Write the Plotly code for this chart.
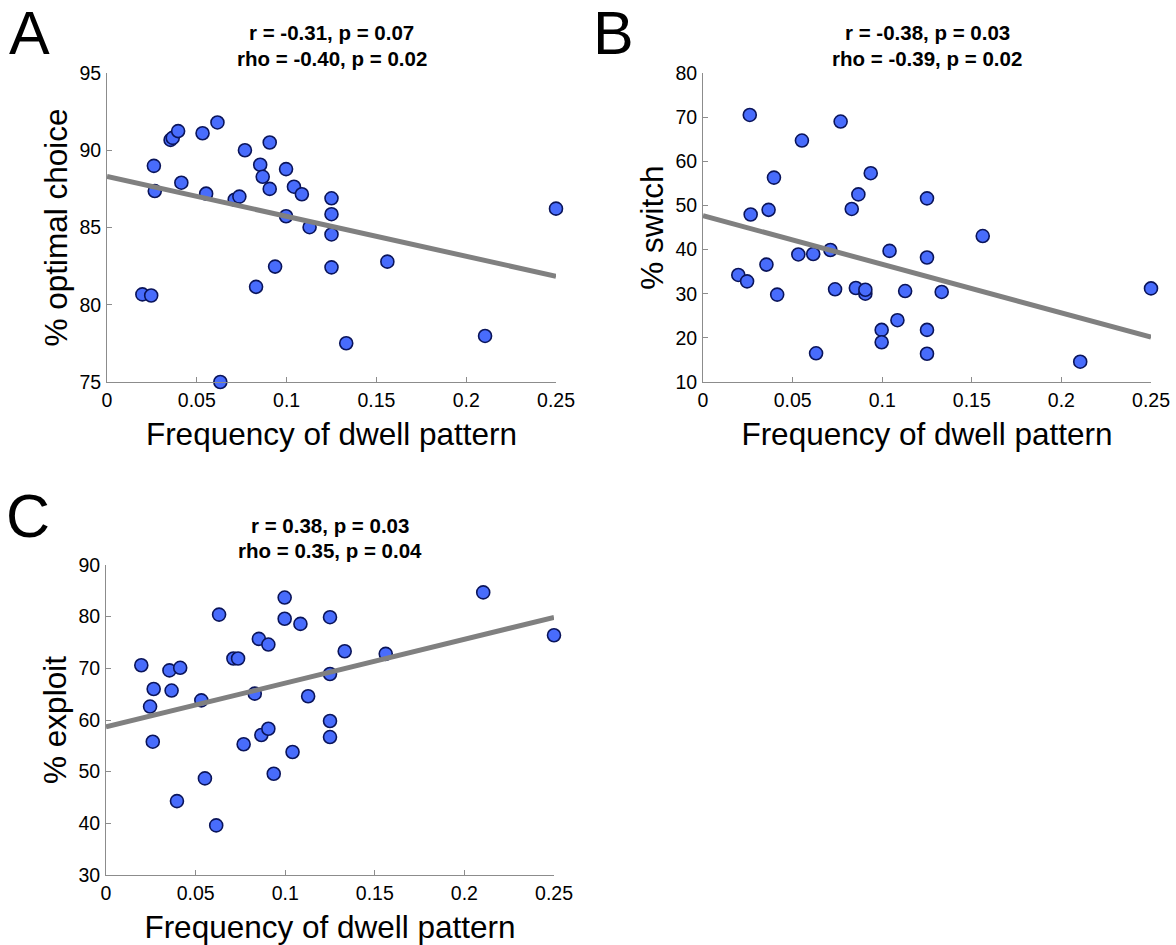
import numpy as np
import plotly.graph_objects as go

# Shared x: frequency of dwell pattern (one per participant)
freq = [0.0197, 0.0246, 0.0261, 0.0266, 0.0354, 0.0366, 0.0396, 0.0414, 0.0532, 0.0552,
        0.0615, 0.0631, 0.0711, 0.0737, 0.0768, 0.0830, 0.0853, 0.0867, 0.0906, 0.0906,
        0.0936, 0.0997, 0.0997, 0.1041, 0.1085, 0.1128, 0.125, 0.125, 0.125, 0.125,
        0.1332, 0.1561, 0.2105, 0.25]

optimal_choice = [80.67, 80.6, 88.99, 87.36, 90.67, 90.8, 91.24, 87.9, 91.1, 87.19,
                  91.8, 75.0, 86.8, 87.0, 90.0, 81.16, 89.06, 88.28, 90.5, 87.5,
                  82.47, 88.78, 85.73, 87.64, 87.15, 85.02, 86.89, 85.86, 84.55, 82.42,
                  77.51, 82.79, 77.98, 86.22]

switch = [34.25, 32.8, 70.5, 47.95, 36.6, 49.0, 56.3, 29.8, 38.9, 64.7,
          39.0, 16.5, 39.9, 31.0, 69.0, 49.2, 31.3, 52.5, 30.0, 30.9,
          57.3, 21.8, 19.0, 39.7, 24.0, 30.6, 51.6, 38.2, 21.8, 16.4,
          30.4, 43.06, 14.6, 31.2]

exploit = [70.6, 62.6, 55.8, 66.0, 69.6, 65.7, 44.3, 70.1, 63.8, 48.7,
           39.6, 80.4, 71.9, 71.9, 55.3, 65.1, 75.7, 57.1, 74.6, 58.3,
           49.6, 83.7, 79.6, 53.8, 78.6, 64.6, 79.9, 68.9, 59.8, 56.7,
           73.3, 72.8, 84.7, 76.4]

panel_letters = ["A", "B", "C"]
titles_line1 = ["r = -0.31, p = 0.07", "r = -0.38, p = 0.03", "r = 0.38, p = 0.03"]
titles_line2 = ["rho = -0.40, p = 0.02", "rho = -0.39, p = 0.02", "rho = 0.35, p = 0.04"]
y_titles = ["% optimal choice", "% switch", "% exploit"]
x_title = "Frequency of dwell pattern"
x_ticks = [0, 0.05, 0.1, 0.15, 0.2, 0.25]
x_ticktext = ["0", "0.05", "0.1", "0.15", "0.2", "0.25"]
y_ranges = [[75, 95], [10, 80], [30, 90]]
y_dticks = [5, 10, 10]

W, H = 1176, 945
FONT = "Liberation Sans"
MARKER = "rgb(72,108,252)"
EDGE = "rgb(10,20,90)"
LINE = "rgb(128,128,128)"
AXC = "rgb(140,140,140)"
LABEL_SIZE = 31.5

# pixel boxes (left, right, top, bottom)
boxes = [(107, 556, 73, 382), (703, 1151, 73, 382), (106, 554, 565, 875)]
letter_pos = [(7, -3), (591, -3), (4, 480)]

fig = go.Figure()
series = [optimal_choice, switch, exploit]
x = np.array(freq)
for i, ys in enumerate(series):
    ax = "" if i == 0 else str(i + 1)
    xa, ya = "x" + ax, "y" + ax
    yv = np.array(ys)
    fig.add_trace(go.Scatter(x=freq, y=ys, mode="markers", xaxis=xa, yaxis=ya,
                             cliponaxis=False, showlegend=False,
                             marker=dict(size=13, color=MARKER, line=dict(color=EDGE, width=1.6))))
    m, b = np.polyfit(x, yv, 1)
    lx = [0, 0.25]
    fig.add_trace(go.Scatter(x=lx, y=[b + m * v for v in lx], mode="lines", xaxis=xa, yaxis=ya,
                             cliponaxis=False, showlegend=False,
                             line=dict(color=LINE, width=5)))
    l, r, t, bt = boxes[i]
    axis_common = dict(showgrid=False, zeroline=False, showline=True, linecolor=AXC, linewidth=1,
                       ticks="inside", ticklen=5, tickcolor=AXC, tickwidth=1,
                       tickfont=dict(family=FONT, size=19.5, color="black"), mirror=False)
    fig.layout["xaxis" + ax] = dict(domain=[l / W, r / W], range=[0, 0.25], anchor=ya,
                                    tickvals=x_ticks, ticktext=x_ticktext, ticklabelstandoff=1,
                                    title=dict(text=x_title, font=dict(family=FONT, size=LABEL_SIZE, color="black"), standoff=12),
                                    **axis_common)
    fig.layout["yaxis" + ax] = dict(domain=[1 - bt / H, 1 - t / H], range=y_ranges[i], anchor=xa,
                                    dtick=y_dticks[i], tick0=0, ticklabelstandoff=1,
                                    title=dict(text=y_titles[i], font=dict(family=FONT, size=LABEL_SIZE, color="black"), standoff=2),
                                    **axis_common)
    cx = (l + r) / 2 / W
    for txt, dy in ((titles_line1[i], 40), (titles_line2[i], 15)):
        fig.add_annotation(text="<b>" + txt + "</b>", xref="paper", yref="paper",
                           x=cx, y=1 - (t - dy) / H, xanchor="center", yanchor="middle",
                           showarrow=False, align="center", font=dict(family=FONT, size=20.5, color="black"))
    lx0, ly0 = letter_pos[i]
    fig.add_annotation(text=panel_letters[i], xref="paper", yref="paper",
                       x=lx0 / W, y=1 - ly0 / H, xanchor="left", yanchor="top",
                       showarrow=False, font=dict(family=FONT, size=61, color="black"))

fig.update_layout(width=W, height=H, margin=dict(l=0, r=0, t=0, b=0, autoexpand=False),
                  paper_bgcolor="white", plot_bgcolor="white")
fig.write_html("out.html")
